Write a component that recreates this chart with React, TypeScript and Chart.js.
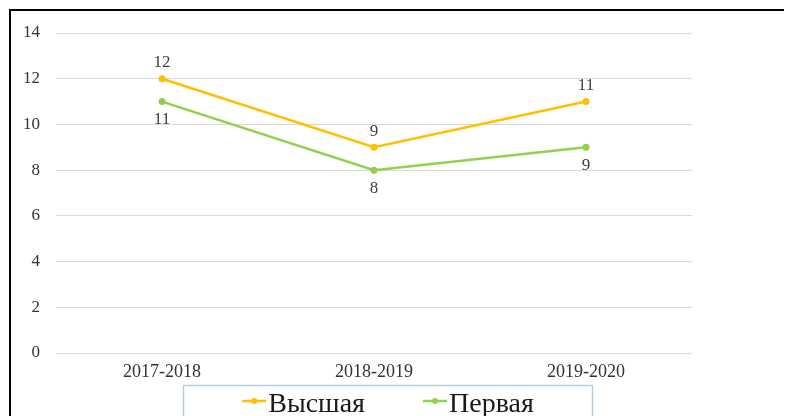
import React, { useEffect, useRef } from "react";
import { Chart, registerables } from "chart.js";

Chart.register(...registerables);

const categories = ["2017-2018", "2018-2019", "2019-2020"];
const seriesNames = ["Высшая", "Первая"];
const highestValues = [12, 9, 11];
const firstValues = [11, 8, 9];
const seriesColors = ["#FFC000", "#92D050"];
const yMin = 0;
const yMax = 14;
const yStep = 2;

const SERIF = '"Liberation Serif", "Times New Roman", serif';

const dataLabelsPlugin = {
  id: "dataLabelsCustom",
  afterDatasetsDraw(chart: any) {
    const ctx = chart.ctx;
    ctx.save();
    ctx.font = `17px ${SERIF}`;
    ctx.fillStyle = "#404040";
    ctx.textAlign = "center";
    ctx.textBaseline = "middle";
    chart.data.datasets.forEach((ds: any, di: number) => {
      const meta = chart.getDatasetMeta(di);
      meta.data.forEach((pt: any, i: number) => {
        const off = di === 0 ? -16 : 18;
        ctx.fillText(String(ds.data[i]), pt.x, pt.y + off);
      });
    });
    ctx.restore();
  },
};

const legendBoxPlugin = {
  id: "legendBoxCustom",
  afterDraw(chart: any) {
    const ctx = chart.ctx;
    ctx.save();
    ctx.strokeStyle = "#B9CDE0";
    ctx.lineWidth = 1.5;
    ctx.strokeRect(172.5, 374.5, 409, 60);
    ctx.font = `28px ${SERIF}`;
    ctx.textBaseline = "alphabetic";
    ctx.textAlign = "left";
    const markerW = 24;
    const markerGap = 2;
    const itemGap = 58;
    const widths = chart.data.datasets.map((d: any) => ctx.measureText(d.label).width);
    let total = 0;
    widths.forEach((w: number, i: number) => {
      total += markerW + markerGap + w + (i > 0 ? itemGap : 0);
    });
    let x = 377 - total / 2;
    const lineY = 390;
    chart.data.datasets.forEach((d: any, i: number) => {
      ctx.strokeStyle = d.borderColor;
      ctx.lineWidth = 2.5;
      ctx.beginPath();
      ctx.moveTo(x, lineY);
      ctx.lineTo(x + markerW, lineY);
      ctx.stroke();
      ctx.fillStyle = d.borderColor;
      ctx.beginPath();
      ctx.arc(x + markerW / 2, lineY, 3, 0, Math.PI * 2);
      ctx.fill();
      ctx.fillStyle = "#1a1a1a";
      ctx.fillText(d.label, x + markerW + markerGap, 401);
      x += markerW + markerGap + widths[i] + itemGap;
    });
    ctx.restore();
  },
};

export default function App() {
  const canvasRef = useRef<HTMLCanvasElement | null>(null);

  useEffect(() => {
    if (!canvasRef.current) return;
    const chart = new Chart(canvasRef.current, {
      type: "line",
      data: {
        labels: categories,
        datasets: [
          {
            label: seriesNames[0],
            data: highestValues,
            borderColor: seriesColors[0],
            backgroundColor: seriesColors[0],
            borderWidth: 2.5,
            pointRadius: 3.5,
            pointBackgroundColor: seriesColors[0],
            pointBorderWidth: 0,
            tension: 0,
          },
          {
            label: seriesNames[1],
            data: firstValues,
            borderColor: seriesColors[1],
            backgroundColor: seriesColors[1],
            borderWidth: 2.5,
            pointRadius: 3.5,
            pointBackgroundColor: seriesColors[1],
            pointBorderWidth: 0,
            tension: 0,
          },
        ],
      },
      options: {
        responsive: false,
        maintainAspectRatio: false,
        animation: false,
        layout: { padding: { left: 0, right: 100, top: 22, bottom: 33 } },
        plugins: {
          legend: { display: false },
          tooltip: { enabled: false },
        },
        scales: {
          x: {
            offset: true,
            grid: { display: false, drawTicks: false },
            border: { display: false },
            ticks: {
              padding: 8,
              color: "#333333",
              font: { family: SERIF, size: 18 },
            },
            afterFit(scale: any) {
              scale.height = 30;
            },
          },
          y: {
            min: yMin,
            max: yMax,
            ticks: {
              stepSize: yStep,
              padding: 16,
              color: "#333333",
              font: { family: SERIF, size: 17 },
            },
            grid: { color: "#D9D9D9", lineWidth: 1, drawTicks: false },
            border: { display: false },
            afterFit(scale: any) {
              scale.width = 45;
              scale.paddingTop = 10;
              scale.paddingBottom = 10;
            },
          },
        },
      },
      plugins: [dataLabelsPlugin, legendBoxPlugin],
    });
    return () => chart.destroy();
  }, []);

  return (
    <div style={{ position: "relative", width: 784, height: 408, overflow: "hidden", background: "#fff" }}>
      <div
        style={{
          position: "absolute",
          left: 1,
          top: 1,
          width: 1000,
          height: 1000,
          borderTop: "2px solid #000",
          borderLeft: "2px solid #000",
        }}
      />
      <canvas
        ref={canvasRef}
        width={781}
        height={405}
        style={{ position: "absolute", left: 3, top: 3, width: 781, height: 405 }}
      />
    </div>
  );
}
